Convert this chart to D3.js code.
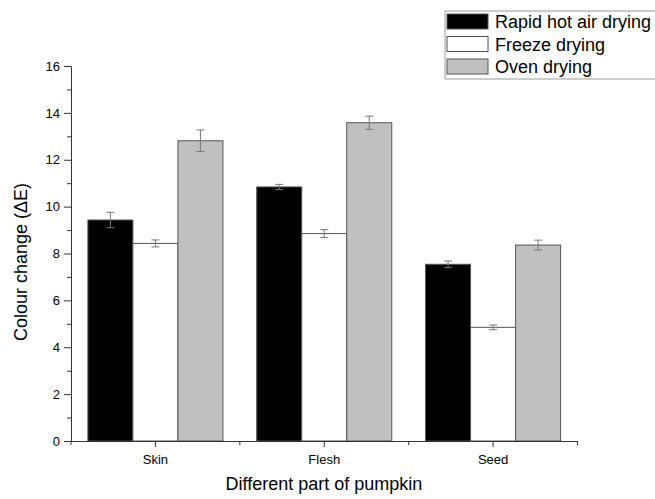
<!DOCTYPE html>
<html>
<head>
<meta charset="utf-8">
<script src="https://cdn.jsdelivr.net/npm/d3@7"></script>
<style>
  body { margin: 0; background: #fff; }
  svg { display: block; font-family: Arial, "Liberation Sans", sans-serif; }
</style>
</head>
<body>
<svg width="655" height="499"></svg>
<script>
const parts = ['Skin', 'Flesh', 'Seed'];
const methods = ['Rapid hot air drying', 'Freeze drying', 'Oven drying'];
const colours = ['#000000', '#ffffff', '#c0c0c0'];

// mean colour change per method, in the order of parts
const rapidHotAir = [9.43, 10.84, 7.54];
const freeze = [8.43, 8.85, 4.85];
const oven = [12.81, 13.58, 8.36];

// error bar half-heights
const rapidHotAirErr = [0.33, 0.11, 0.14];
const freezeErr = [0.15, 0.17, 0.10];
const ovenErr = [0.46, 0.28, 0.21];

const yTicks = [0, 2, 4, 6, 8, 10, 12, 14, 16];

const means = [rapidHotAir, freeze, oven];
const errs = [rapidHotAirErr, freezeErr, ovenErr];

const rows = [];
parts.forEach((p, i) => {
  methods.forEach((m, j) => {
    rows.push({ part: p, method: m, value: means[j][i], err: errs[j][i], colour: colours[j] });
  });
});

const svg = d3.select('svg');
const axisColour = '#333';

const x = d3.scaleBand().domain(parts).range([71, 577.5]).padding(0);
const x1 = d3.scaleBand().domain(methods).range([16.9, x.bandwidth() - 16.9]).padding(0);
const y = d3.scaleLinear().domain([0, 16]).range([441, 66]);

// bars
svg.append('g')
  .selectAll('rect')
  .data(rows)
  .enter().append('rect')
    .attr('x', d => x(d.part) + x1(d.method))
    .attr('y', d => y(d.value))
    .attr('width', x1.bandwidth())
    .attr('height', d => y(0) - y(d.value))
    .attr('fill', d => d.colour)
    .attr('stroke', '#555')
    .attr('stroke-width', 1);

// error bars
const eb = svg.append('g')
  .attr('stroke', '#777')
  .attr('stroke-width', 1)
  .selectAll('g')
  .data(rows)
  .enter().append('g')
    .attr('transform', d => `translate(${x(d.part) + x1(d.method) + x1.bandwidth() / 2},0)`);
eb.append('line')
  .attr('y1', d => y(d.value + d.err))
  .attr('y2', d => y(d.value - d.err));
eb.append('line')
  .attr('x1', -4).attr('x2', 4)
  .attr('y1', d => y(d.value + d.err))
  .attr('y2', d => y(d.value + d.err));
eb.append('line')
  .attr('x1', -4).attr('x2', 4)
  .attr('y1', d => y(d.value - d.err))
  .attr('y2', d => y(d.value - d.err));

// y axis
svg.append('g')
  .attr('transform', 'translate(71,0)')
  .call(d3.axisLeft(y).tickValues(yTicks).tickSize(7).tickPadding(4).tickSizeOuter(0));
svg.append('g')
  .attr('transform', 'translate(71,0)')
  .call(d3.axisLeft(y).tickValues(d3.range(1, 16, 2)).tickSize(4).tickFormat('').tickSizeOuter(0))
  .call(g => g.select('.domain').remove());

// x axis
svg.append('g')
  .attr('transform', 'translate(0,441)')
  .call(d3.axisBottom(x).tickSize(6).tickPadding(8).tickSizeOuter(0));
const xMinor = [71].concat(parts.map(p => x(p) + x.bandwidth()));
svg.append('g')
  .attr('stroke', axisColour)
  .selectAll('line')
  .data(xMinor)
  .enter().append('line')
    .attr('x1', d => d).attr('x2', d => d)
    .attr('y1', 441).attr('y2', 445);

svg.selectAll('.domain, .tick line').attr('stroke', axisColour);
svg.selectAll('.tick text')
  .attr('fill', '#000')
  .style('font-size', '13px')
  .style('font-family', 'Arial, "Liberation Sans", sans-serif');

// axis titles
svg.append('text')
  .attr('x', 324)
  .attr('y', 490)
  .attr('text-anchor', 'middle')
  .style('font-size', '18px')
  .text('Different part of pumpkin');

svg.append('text')
  .attr('transform', 'translate(27,262) rotate(-90)')
  .attr('text-anchor', 'middle')
  .style('font-size', '18px')
  .text('Colour change (\u0394E)');

// legend
const legend = svg.append('g');
legend.append('rect')
  .attr('x', 445).attr('y', 11)
  .attr('width', 215).attr('height', 68)
  .attr('fill', 'none')
  .attr('stroke', '#999');
const li = legend.selectAll('g')
  .data(methods)
  .enter().append('g')
    .attr('transform', (d, i) => `translate(447,${14 + i * 22.5})`);
li.append('rect')
  .attr('width', 41).attr('height', 15)
  .attr('fill', (d, i) => colours[i])
  .attr('stroke', '#555');
li.append('text')
  .attr('x', 48)
  .attr('y', 14)
  .style('font-size', '18px')
  .text(d => d);
</script>
</body>
</html>
